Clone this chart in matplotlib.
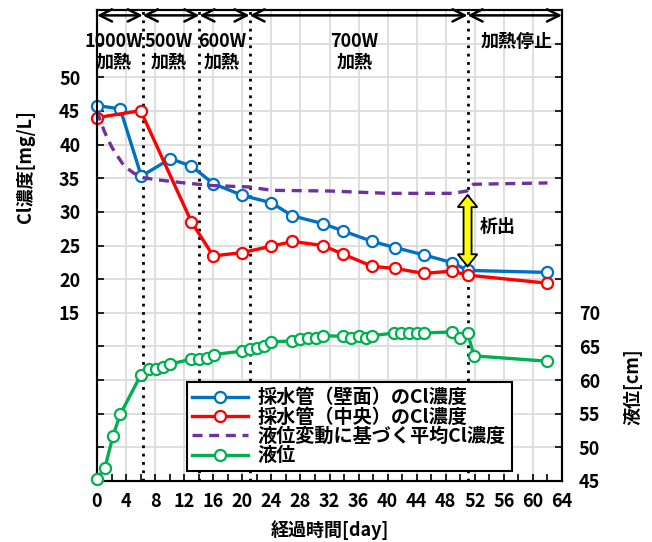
import numpy as np
import matplotlib.pyplot as plt
from matplotlib.patches import Polygon

plt.rcParams['font.family'] = ['Noto Sans CJK JP', 'DejaVu Sans']
plt.rcParams['font.weight'] = 'bold'

# 採水管(壁面)
days_wall = [0, 3.2, 6.1, 10.1, 13.0, 16.0, 20.0, 24.0, 26.9, 31.1, 33.9, 37.9, 41.0, 45.0, 48.9, 51.0, 62.0]
cl_wall = [45.8, 45.3, 35.3, 37.9, 36.8, 34.2, 32.45, 31.35, 29.4, 28.25, 27.15, 25.6, 24.7, 23.6, 22.45, 21.3, 21.0]
# 採水管(中央)
days_center = [0, 6.0, 13.0, 16.0, 20.0, 24.0, 26.9, 31.1, 33.9, 37.9, 41.0, 45.0, 48.9, 51.0, 62.0]
cl_center = [44.0, 45.05, 28.5, 23.45, 23.95, 24.9, 25.6, 25.0, 23.7, 21.9, 21.6, 20.85, 21.2, 20.6, 19.4]
# 液位変動に基づく平均Cl濃度
days_avg = [0, 0.5, 1, 1.5, 2, 2.5, 3, 3.5, 4, 5, 6.3, 8, 12, 16, 21, 24, 32, 40, 49, 50.9, 51.8, 62]
cl_avg = [45.0, 43.4, 42.0, 40.8, 39.7, 38.8, 38.0, 37.2, 36.6, 35.8, 35.1, 34.8, 34.3, 33.9, 33.7, 33.2,
          33.1, 32.75, 32.75, 33.1, 34.1, 34.3]
# 液位
days_lvl = [0, 1.1, 2.2, 3.2, 6.0, 7.1, 8.1, 9.1, 10.1, 13.0, 14.1, 15.1, 16.1, 20.0, 21.0, 22.0, 23.0, 24.0,
            26.9, 27.9, 29.1, 30.1, 31.1, 33.9, 34.9, 36.0, 37.0, 37.9, 40.9, 41.9, 43.0, 44.0, 45.0,
            48.9, 49.9, 51.0, 51.9, 62.0]
level = [45.3, 47.0, 51.7, 54.9, 60.7, 61.6, 61.6, 61.9, 62.4, 63.1, 63.1, 63.35, 63.8, 64.3, 64.6, 64.7,
         65.0, 65.7, 65.8, 66.1, 66.2, 66.3, 66.6, 66.5, 66.2, 66.5, 66.2, 66.6, 67.0, 67.0, 67.0, 67.0,
         67.0, 67.15, 66.2, 67.0, 63.6, 62.8]

phase_edges = [0, 6.3, 14.1, 21.0, 51.0, 64]
phase_text = [(2.3, '1000W', '加熱'), (9.8, '500W', '加熱'), (17.2, '600W', '加熱'),
              (35.4, '700W', '加熱'), (57.7, '加熱停止', '')]

fs = 13
fig = plt.figure(figsize=(6.52, 5.42), dpi=100)
ax = fig.add_axes([97 / 652, 1 - 481 / 542, 465 / 652, 471 / 542])
ax2 = ax.twinx()

ax.set_xlim(0, 64)
ax.set_ylim(-10, 60)
ax2.set_ylim(45, 115)

ax.set_xticks(np.arange(0, 65, 4))
ax.set_xticks(np.arange(0, 65, 2), minor=True)
ax.set_yticks(np.arange(-10, 61, 5))
ax.set_yticklabels([str(v) if 15 <= v <= 50 else '' for v in range(-10, 61, 5)])
ax2.set_yticks(np.arange(45, 116, 5))
ax2.set_yticklabels([str(v) if v <= 70 else '' for v in range(45, 116, 5)])

ax.grid(True, which='major', color='#d9d9d9', lw=1.2)
ax.set_axisbelow(True)
ax.tick_params(axis='both', which='both', direction='in', labelsize=fs, width=1.2)
ax.tick_params(axis='x', which='both', length=5, pad=8)
ax.tick_params(axis='y', length=5, pad=12)
ax2.tick_params(axis='y', direction='in', length=5, width=1.2, labelsize=fs, pad=12)
for a in (ax, ax2):
    for s in a.spines.values():
        s.set_linewidth(1.5)

for d in phase_edges[1:-1]:
    ax.axvline(d, color='black', ls=(0, (1, 2)), lw=2, zorder=2)

l1, = ax.plot(days_wall, cl_wall, '-o', color='#0070C0', lw=2.4, ms=8, mfc='white', mew=1.6,
              label='採水管（壁面）のCl濃度', zorder=3, clip_on=False)
l2, = ax.plot(days_center, cl_center, '-o', color='#FF0000', lw=2.4, ms=8, mfc='white', mew=1.6,
              label='採水管（中央）のCl濃度', zorder=4, clip_on=False)
l3, = ax.plot(days_avg, cl_avg, '--', color='#7030A0', lw=2.4, dashes=(3, 2),
              label='液位変動に基づく平均Cl濃度', zorder=5)
l4, = ax2.plot(days_lvl, level, '-o', color='#00B050', lw=2.4, ms=8, mfc='white', mew=1.6,
               label='液位', zorder=3, clip_on=False)

# phase arrows and labels
for x0, x1 in zip(phase_edges[:-1], phase_edges[1:]):
    ax.annotate('', xy=(x1, 59.2), xytext=(x0, 59.2),
                arrowprops=dict(arrowstyle='<->', lw=1.8, color='black', mutation_scale=22,
                                shrinkA=0, shrinkB=0))
for xc, t1, t2 in phase_text:
    ax.text(xc, 55.3, t1, ha='center', va='center', fontsize=fs, fontweight='bold')
    if t2:
        ax.text(xc, 52.3, t2, ha='center', va='center', fontsize=fs, fontweight='bold')

# 析出 double arrow
xa, ytop, ybot = 51.0, 32.5, 21.9
bw, hw, hl = 0.55, 1.35, 1.8
pts = [(xa, ytop), (xa + hw, ytop - hl), (xa + bw, ytop - hl), (xa + bw, ybot + hl), (xa + hw, ybot + hl),
       (xa, ybot), (xa - hw, ybot + hl), (xa - bw, ybot + hl), (xa - bw, ytop - hl), (xa - hw, ytop - hl)]
ax.add_patch(Polygon(pts, closed=True, facecolor='#FFFF00', edgecolor='black', lw=1.3, zorder=6))
ax.text(52.7, 27.8, '析出', ha='left', va='center', fontsize=fs, fontweight='bold')

ax2.legend(handles=[l1, l2, l3, l4], loc='lower left', bbox_to_anchor=(0.193, 0.021), fontsize=13.8,
           handlelength=2.9, fancybox=False, edgecolor='black', framealpha=1, borderpad=0.3,
           labelspacing=0.02, handletextpad=0.5, borderaxespad=0).get_frame().set_linewidth(1.5)

fig.text(25 / 652, 1 - 167 / 542, 'Cl濃度[mg/L]', rotation=90, ha='center', va='center',
         fontsize=fs, fontweight='bold')
fig.text(633 / 652, 1 - 387 / 542, '液位[cm]', rotation=90, ha='center', va='center',
         fontsize=fs, fontweight='bold')
fig.text(330 / 652, 1 - 530 / 542, '経過時間[day]', ha='center', va='center',
         fontsize=fs, fontweight='bold')

fig.savefig('out.png', dpi=100)
